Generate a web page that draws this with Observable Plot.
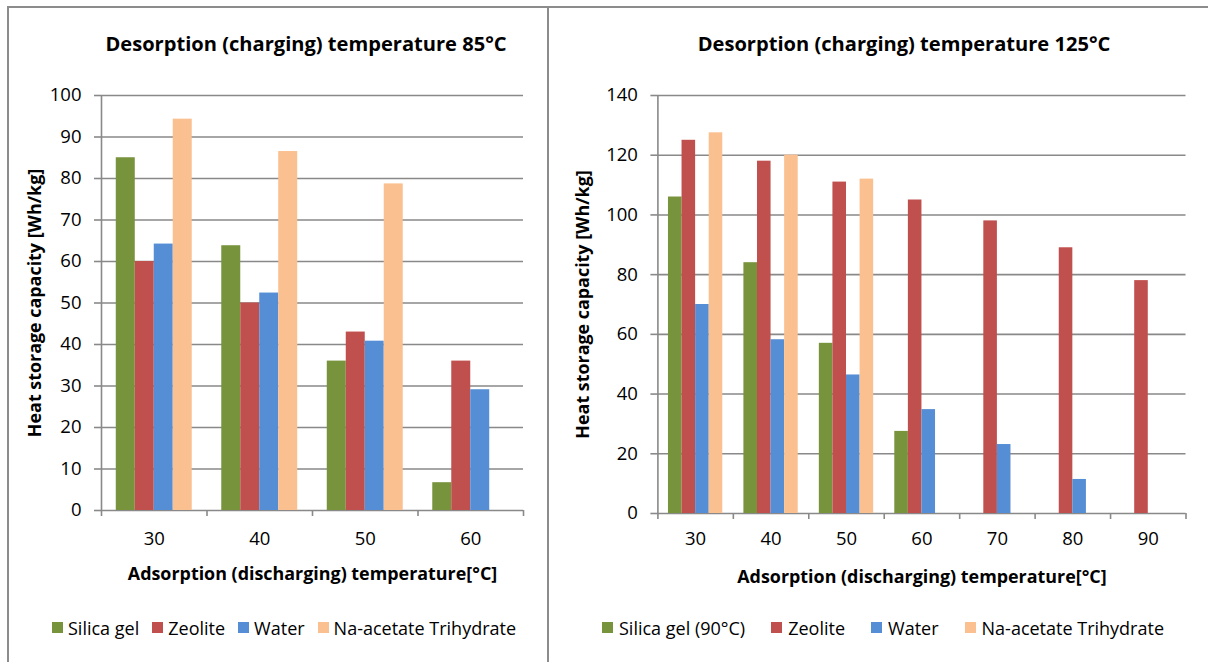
<!DOCTYPE html>
<html><head><meta charset="utf-8">
<script src="https://cdn.jsdelivr.net/npm/d3@7"></script>
<script src="https://cdn.jsdelivr.net/npm/@observablehq/plot@0.6"></script>
<style>
html,body{margin:0;padding:0;background:#fff;}
body{width:1208px;height:662px;position:relative;overflow:hidden;font-family:"Open Sans",sans-serif;color:#000;}
.line{position:absolute;background:#8c8c8c;}
.title{position:absolute;top:31px;width:520px;font-weight:bold;font-size:20.1px;line-height:26px;text-align:center;white-space:nowrap;}
.chart{position:absolute;top:75px;}
.legend{position:absolute;top:611px;}
.lgL-swatches,.lgR-swatches{font-family:"Open Sans",sans-serif !important;font-size:18px !important;line-height:26px;color:#000;}
.lgL-swatch{margin-right:13px !important;}
.lgR-swatch{margin-right:26px !important;}
.lgL-swatch>svg{margin-right:5px !important;}
.lgR-swatch>svg{margin-right:6px !important;}
</style></head><body>
<div class="line" style="left:7px;top:6px;width:1201px;height:2px"></div>
<div class="line" style="left:7px;top:6px;width:2px;height:656px"></div>
<div class="line" style="left:547px;top:6px;width:2px;height:656px"></div>
<div class="title" id="tL" style="left:46px"></div>
<div class="title" id="tR" style="left:644px"></div>
<div class="chart" id="cL" style="left:9px"></div>
<div class="chart" id="cR" style="left:549px"></div>
<div class="legend" id="lL" style="left:52px"></div>
<div class="legend" id="lR" style="left:602px"></div>
<script>
// ---- data: left panel (desorption 85°C)
const titleL = "Desorption (charging) temperature 85°C";
const cats85 = [30, 40, 50, 60];
const series85 = ["Silica gel", "Zeolite", "Water", "Na-acetate Trihydrate"];
const silica85 = [85, 63.8, 36, 6.7];
const zeolite85 = [60, 50, 43, 36];
const water85 = [64.2, 52.4, 40.8, 29.1];
const naac85 = [94.3, 86.5, 78.7, null];
const yTicks85 = [0, 10, 20, 30, 40, 50, 60, 70, 80, 90, 100];

// ---- data: right panel (desorption 125°C)
const titleR = "Desorption (charging) temperature 125°C";
const cats125 = [30, 40, 50, 60, 70, 80, 90];
const series125 = ["Silica gel (90°C)", "Zeolite", "Water", "Na-acetate Trihydrate"];
const silica125 = [106, 84, 57, 27.5, null, null, null];
const zeolite125 = [125, 118, 111, 105, 98, 89, 78];
const water125 = [70, 58.2, 46.4, 34.8, 23.1, 11.4, null];
const naac125 = [127.5, 120, 112, null, null, null, null];
const yTicks125 = [0, 20, 40, 60, 80, 100, 120, 140];

const xTitle = "Adsorption (discharging) temperature[°C]";
const yTitle = "Heat storage capacity [Wh/kg]";
const colors = ["#77933C", "#C0504D", "#558ED5", "#FAC090"];
const gridColor = "#898989";

const GAP = 0.14, BW = 0.18;

function makeChart({cats, names, values, yTicks, width, marginLeft, marginRight, marginTop, marginBottom, tickPad, ylabDx}) {
  const rows = [];
  values.forEach((arr, s) => arr.forEach((v, i) => {
    if (v != null) rows.push({i, s, series: names[s], value: v});
  }));
  const n = cats.length;
  return Plot.plot({
    width, height: 520, marginLeft, marginRight, marginTop, marginBottom,
    style: {fontFamily: "'Open Sans', sans-serif", fontSize: "18.5px", color: "#000", background: "transparent"},
    x: {type: "linear", domain: [0, n]},
    y: {domain: [yTicks[0], yTicks[yTicks.length - 1]]},
    color: {domain: names, range: colors},
    marks: [
      Plot.gridY(yTicks, {stroke: gridColor, strokeOpacity: 1, strokeWidth: 1.6}),
      Plot.axisY({ticks: yTicks, tickSize: 7, tickPadding: 13, stroke: gridColor, strokeWidth: 1.6, fill: "#000", fontSize: 18.5, label: null}),
      Plot.axisX({ticks: d3.range(n + 1), tickSize: 6, tickFormat: () => "", stroke: gridColor, strokeWidth: 1.6, label: null}),
      Plot.axisX({ticks: d3.range(n).map(i => i + 0.5), tickSize: 0, tickPadding: tickPad, tickFormat: v => String(cats[Math.floor(v)]), fill: "#000", fontSize: 18.5, label: null}),
      Plot.ruleX([0], {stroke: gridColor, strokeWidth: 1.6}),
      Plot.rectY(rows, {
        x1: d => d.i + GAP + d.s * BW,
        x2: d => d.i + GAP + (d.s + 1) * BW,
        y: "value",
        fill: "series"
      }),
      Plot.text([xTitle], {frameAnchor: "bottom", dy: 63.5, text: d => d, fontWeight: "bold", fontSize: 17.9, textAnchor: "middle", lineAnchor: "middle", fill: "#000"}),
      Plot.text([yTitle], {frameAnchor: "left", dx: ylabDx, rotate: -90, text: d => d, fontWeight: "bold", fontSize: 17.9, textAnchor: "middle", lineAnchor: "middle", fill: "#000"})
    ]
  });
}

document.getElementById("tL").textContent = titleL;
document.getElementById("tR").textContent = titleR;

document.getElementById("cL").append(makeChart({
  cats: cats85, names: series85, values: [silica85, zeolite85, water85, naac85], yTicks: yTicks85,
  width: 539, marginLeft: 92, marginRight: 25, marginTop: 20, marginBottom: 85, tickPad: 21.5, ylabDx: -66
}));
document.getElementById("cR").append(makeChart({
  cats: cats125, names: series125, values: [silica125, zeolite125, water125, naac125], yTicks: yTicks125,
  width: 659, marginLeft: 108.4, marginRight: 22.5, marginTop: 20, marginBottom: 82, tickPad: 18.2, ylabDx: -74.4
}));

document.getElementById("lL").append(Plot.legend({color: {domain: series85, range: colors}, swatchSize: 11, className: "lgL"}));
document.getElementById("lR").append(Plot.legend({color: {domain: series125, range: colors}, swatchSize: 11, className: "lgR"}));
</script>
</body></html>
